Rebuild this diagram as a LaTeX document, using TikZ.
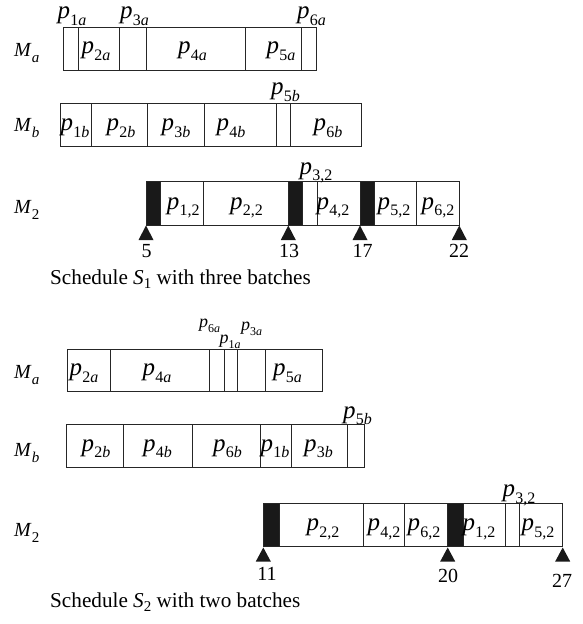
\documentclass[tikz,border=0pt]{standalone}
\usepackage{fontspec}
\setmainfont{Liberation Serif}
\newcommand\subfs[1]{{\fontsize{16}{16}\selectfont #1}}
\newcommand\pj[1]{\textit{p}\kern0.3pt\raisebox{-6.5pt}{\subfs{#1}}}
\newcommand\pjs[1]{\textit{p}\raisebox{-4.5pt}{{\fontsize{12}{12}\selectfont #1}}}
\newcommand\mach[1]{\textit{M}\raisebox{-6pt}{{\fontsize{15}{15}\selectfont #1}}}
\newcommand\ia{\textit{a}}
\newcommand\ib{\textit{b}}
\begin{document}
\begin{tikzpicture}[x=1pt,y=-1pt,
  box/.style={draw=black!85,line width=0.9pt},
  blk/.style={fill=black!90,draw=black!90,line width=0.9pt},
  tri/.style={fill=black!90},
  lbl/.style={inner sep=0pt,anchor=base,font=\fontsize{25}{25}\selectfont},
  slbl/.style={inner sep=0pt,anchor=base,font=\fontsize{18}{18}\selectfont},
  mlbl/.style={inner sep=0pt,anchor=base west,font=\fontsize{20}{20}\selectfont},
  num/.style={inner sep=0pt,anchor=base,font=\fontsize{20}{20}\selectfont},
  captxt/.style={inner sep=0pt,anchor=base west,font=\fontsize{21.2}{21.2}\selectfont}]
\useasboundingbox (0,0) rectangle (583,624);

% ================= Schedule S1 =================
% M_a
\node[mlbl] (s1ma) at (14,56.7) {\mach{\ia}};
\draw[box] (63.3,27.3) rectangle (316,70);
\foreach \x in {78.3,119,146,245,301.7} \draw[box] (\x,27.3) -- (\x,70);
\node[lbl] (s1p1a) at (72,18.5) {\pj{1\ia}};
\node[lbl] (s1p3a) at (134.5,18.5) {\pj{3\ia}};
\node[lbl] (s1p6a) at (311.5,18.5) {\pj{6\ia}};
\node[lbl] (s1p2a) at (96,53.5) {\pj{2\ia}};
\node[lbl] (s1p4a) at (192.5,53.5) {\pj{4\ia}};
\node[lbl] (s1p5a) at (281,53.5) {\pj{5\ia}};

% M_b
\node[mlbl] (s1mb) at (14,131.7) {\mach{\ib}};
\draw[box] (60.3,103.3) rectangle (361.7,146.7);
\foreach \x in {91,147.7,204.7,276,290} \draw[box] (\x,103.3) -- (\x,146.7);
\node[lbl] (s1p5b) at (285.5,94.5) {\pj{5\ib}};
\node[lbl] (s1p1b) at (75,130.5) {\pj{1\ib}};
\node[lbl] (s1p2b) at (121,130.5) {\pj{2\ib}};
\node[lbl] (s1p3b) at (176,130.5) {\pj{3\ib}};
\node[lbl] (s1p4b) at (231,130.5) {\pj{4\ib}};
\node[lbl] (s1p6b) at (328,130.5) {\pj{6\ib}};

% M_2
\node[mlbl] (s1m2) at (14,213.3) {\mach{2}};
\fill[blk] (146,181.7) rectangle (160.7,225);
\fill[blk] (288.3,181.7) rectangle (302.7,225);
\fill[blk] (360,181.7) rectangle (374.3,225);
\draw[box] (146,181.7) rectangle (459.3,225);
\foreach \x in {160.7,203.3,288.3,302.7,317,360,374.3,416.7} \draw[box] (\x,181.7) -- (\x,225);
\node[lbl] (s1p32) at (316,174) {\pj{3,2}};
\node[lbl] (s1p12) at (183.3,209) {\pj{1,2}};
\node[lbl] (s1p22) at (246.5,209) {\pj{2,2}};
\node[lbl] (s1p42) at (333,209) {\pj{4,2}};
\node[lbl] (s1p52) at (394,209) {\pj{5,2}};
\node[lbl] (s1p62) at (438,209) {\pj{6,2}};
\foreach \x in {146,288.3,360,459.3} \fill[tri] (\x,225.5) -- (\x+7.5,240) -- (\x-7.5,240) -- cycle;
\node[num] (s1t5) at (146.7,257) {5};
\node[num] (s1t13) at (289,257) {13};
\node[num] (s1t17) at (362.5,257) {17};
\node[num] (s1t22) at (459,257) {22};
\node[captxt] (s1cap) at (50,284) {Schedule \textit{S}\raisebox{-4.5pt}{{\fontsize{15}{15}\selectfont 1}} with three batches};

% ================= Schedule S2 =================
% M_a
\node[mlbl] (s2ma) at (14,378) {\mach{\ia}};
\draw[box] (67.3,349.3) rectangle (322.3,391.7);
\foreach \x in {110,209.7,224,237.7,265.7} \draw[box] (\x,349.3) -- (\x,391.7);
\node[slbl] (s2p6a) at (209.5,327.5) {\pjs{6\ia}};
\node[slbl] (s2p1a) at (230,343.5) {\pjs{1\ia}};
\node[slbl] (s2p3a) at (251.5,330.5) {\pjs{3\ia}};
\node[lbl] (s2p2a) at (84,375.5) {\pj{2\ia}};
\node[lbl] (s2p4a) at (157,375.5) {\pj{4\ia}};
\node[lbl] (s2p5a) at (287.5,375.5) {\pj{5\ia}};

% M_b
\node[mlbl] (s2mb) at (14,456.7) {\mach{\ib}};
\draw[box] (66.3,424.3) rectangle (364.3,467.3);
\foreach \x in {123,192.7,260.3,291.3,347.7} \draw[box] (\x,424.3) -- (\x,467.3);
\node[lbl] (s2p5b) at (357.5,418) {\pj{5\ib}};
\node[lbl] (s2p2b) at (96,451) {\pj{2\ib}};
\node[lbl] (s2p4b) at (157.5,451) {\pj{4\ib}};
\node[lbl] (s2p6b) at (227.5,451) {\pj{6\ib}};
\node[lbl] (s2p1b) at (275,451) {\pj{1\ib}};
\node[lbl] (s2p3b) at (318.5,451) {\pj{3\ib}};

% M_2
\node[mlbl] (s2m2) at (14,536.7) {\mach{2}};
\fill[blk] (263.3,503.3) rectangle (279.3,546.7);
\fill[blk] (447.7,503.3) rectangle (463.3,546.7);
\draw[box] (263.3,503.3) rectangle (562.7,546.7);
\foreach \x in {279.3,363,404.7,447.7,463.3,505.5,519.2} \draw[box] (\x,503.3) -- (\x,546.7);
\node[lbl] (s2p32) at (519,496.5) {\pj{3,2}};
\node[lbl] (s2p22) at (323,530.5) {\pj{2,2}};
\node[lbl] (s2p42) at (384,530.5) {\pj{4,2}};
\node[lbl] (s2p62) at (424,530.5) {\pj{6,2}};
\node[lbl] (s2p12) at (479,530.5) {\pj{1,2}};
\node[lbl] (s2p52) at (538,530.5) {\pj{5,2}};
\foreach \x in {263.3,447.7,562.7} \fill[tri] (\x,547.5) -- (\x+7.5,561.5) -- (\x-7.5,561.5) -- cycle;
\node[num] (s2t11) at (267,580) {11};
\node[num] (s2t20) at (448,582) {20};
\node[num] (s2t27) at (562,587) {27};
\node[captxt] (s2cap) at (50,607) {Schedule \textit{S}\raisebox{-4.5pt}{{\fontsize{15}{15}\selectfont 2}} with two batches};
\end{tikzpicture}
\end{document}
